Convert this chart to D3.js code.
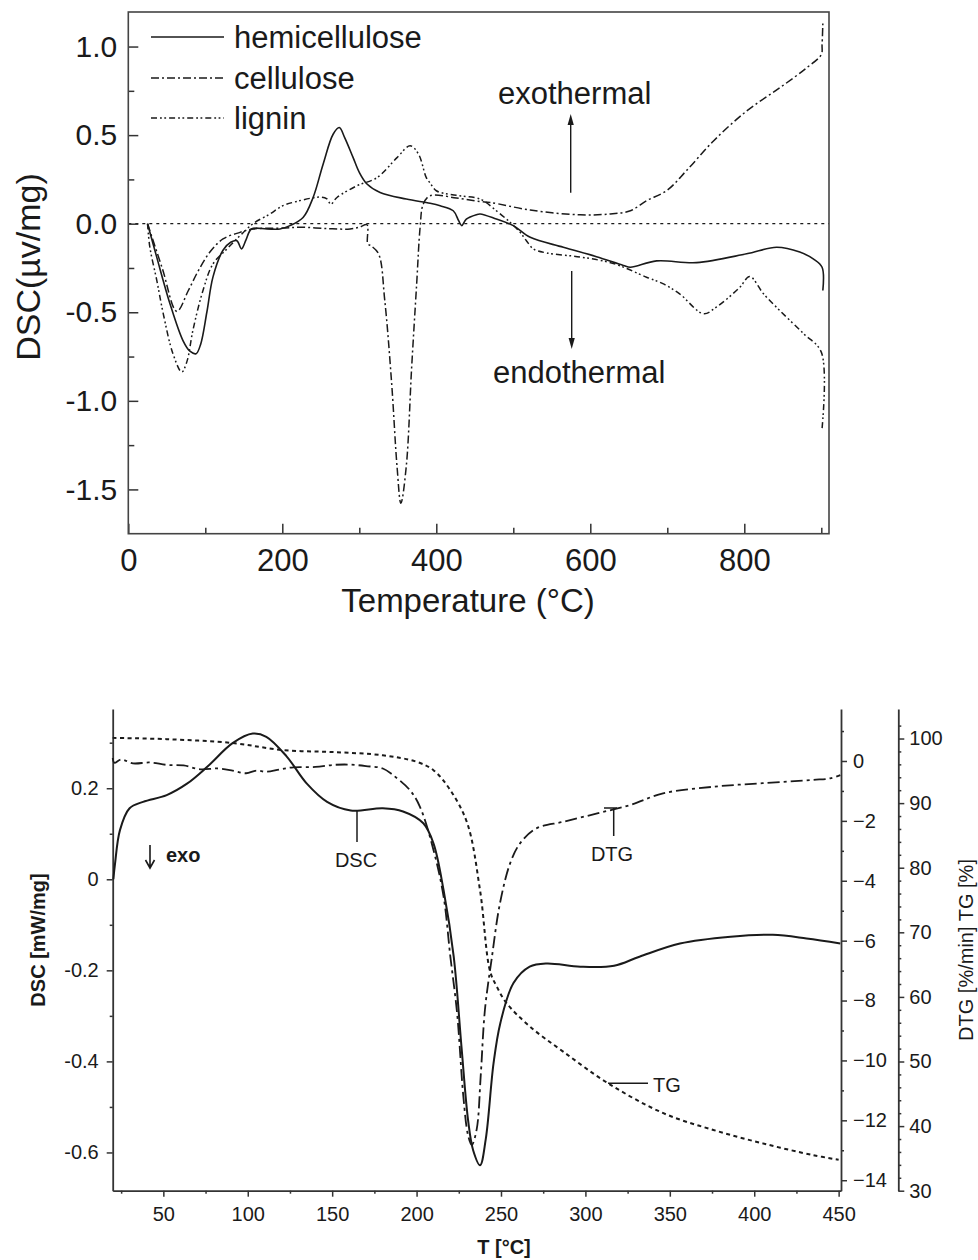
<!DOCTYPE html>
<html>
<head>
<meta charset="utf-8">
<script src="https://cdn.jsdelivr.net/npm/d3@7"></script>
<style>
  body { margin: 0; background: #fff; }
  svg { display: block; font-family: "Liberation Sans", Arial, sans-serif; }
</style>
</head>
<body>
<svg id="chart" width="978" height="1260"></svg>
<script>
// ---------- top chart data: [temperature °C, DSC µv/mg]
var hemicellulose = [[25,0],[37,-0.19],[54,-0.45],[71,-0.66],[80,-0.72],[88,-0.734],[94,-0.68],[102,-0.5],[110,-0.3],[123,-0.15],[133,-0.105],[141,-0.096],[147,-0.142],[153,-0.09],[160,-0.03],[180,-0.03],[197,-0.03],[210,-0.011],[227,0.035],[240,0.148],[253,0.336],[266,0.505],[274,0.543],[281,0.486],[292,0.373],[300,0.29],[310,0.224],[327,0.176],[361,0.139],[392,0.115],[405,0.101],[422,0.073],[429,0.017],[433,-0.011],[439,0.026],[452,0.051],[457,0.055],[478,0.026],[500,-0.011],[522,-0.077],[565,-0.133],[608,-0.186],[643,-0.236],[652,-0.246],[686,-0.21],[738,-0.22],[803,-0.17],[842,-0.133],[872,-0.16],[890,-0.2],[901,-0.246],[902,-0.377]];
var cellulose = [[25,0],[44,-0.25],[63,-0.495],[78,-0.377],[91,-0.265],[106,-0.16],[123,-0.086],[145,-0.049],[162,-0.03],[200,-0.025],[223,-0.02],[260,-0.028],[288,-0.03],[300,-0.02],[310,-0.006],[311,-0.114],[315,-0.124],[325,-0.17],[333,-0.43],[342,-0.9],[349,-1.37],[354,-1.578],[361,-1.37],[368,-0.81],[374.5,-0.34],[379,-0.02],[383,0.11],[392,0.158],[426,0.145],[457,0.125],[470,0.12],[522,0.077],[587,0.05],[626,0.055],[652,0.073],[673,0.13],[699,0.186],[725,0.3],[760,0.467],[803,0.636],[846,0.767],[881,0.88],[900,0.955],[901,1.01],[902,1.13]];
var lignin = [[25,0],[28,-0.133],[37,-0.32],[45.5,-0.51],[58,-0.734],[69.4,-0.837],[76,-0.78],[84,-0.6],[97,-0.377],[110,-0.227],[128,-0.143],[145,-0.068],[162,0],[184,0.055],[200,0.1],[219,0.126],[249,0.15],[258,0.14],[263,0.11],[271,0.148],[297,0.214],[323,0.26],[349,0.373],[366,0.44],[377,0.392],[387,0.26],[392,0.23],[400,0.186],[426,0.16],[457,0.139],[478,0.073],[496,0.007],[509,-0.049],[517,-0.096],[526,-0.142],[543,-0.165],[587,-0.188],[630,-0.225],[673,-0.302],[695,-0.34],[716,-0.396],[747,-0.508],[764,-0.47],[794,-0.36],[807,-0.298],[825,-0.396],[846,-0.49],[877,-0.621],[900,-0.725],[901,-1.156]];
var topXTicks = [0, 200, 400, 600, 800];
var topYTicks = [-1.5, -1.0, -0.5, 0.0, 0.5, 1.0];
var topLegend = ["hemicellulose", "cellulose", "lignin"];

// ---------- bottom chart data: [T °C, value]
var dsc = [[20.4,0],[21.4,0.035],[24.3,0.108],[30,0.156],[38,0.17],[52,0.185],[64,0.21],[76,0.247],[91,0.299],[103,0.32],[111,0.313],[123,0.27],[135,0.21],[147,0.17],[161,0.151],[180,0.156],[192,0.149],[204,0.123],[210,0.079],[216,-0.024],[222,-0.17],[226.6,-0.368],[230.5,-0.529],[233.5,-0.595],[237.6,-0.628],[241,-0.57],[245.6,-0.404],[249.6,-0.316],[257.4,-0.228],[267,-0.192],[277,-0.185],[297,-0.192],[317,-0.19],[332,-0.17],[356,-0.141],[386,-0.126],[411,-0.122],[431,-0.13],[451,-0.141]];
var dtg = [[20,0.1],[21,-0.06],[25,0.05],[32,-0.08],[42,-0.05],[52,-0.13],[62,-0.15],[72,-0.28],[82,-0.25],[91,-0.32],[99,-0.41],[105,-0.32],[111,-0.36],[119,-0.28],[127,-0.21],[140,-0.2],[151,-0.13],[160,-0.12],[170,-0.17],[180,-0.25],[186,-0.47],[196,-0.97],[202,-1.53],[210,-2.97],[216,-4.53],[220,-6.53],[224,-8.42],[227.7,-11.2],[230.5,-12.5],[232.7,-12.82],[235.6,-12.3],[238,-10.5],[240.5,-8.3],[244.5,-6.6],[249.4,-4.75],[255.4,-3.42],[261.3,-2.75],[271,-2.25],[287,-2.03],[307,-1.75],[326.5,-1.47],[346,-1.08],[376,-0.86],[405,-0.74],[435,-0.63],[445,-0.58],[451,-0.47]];
var tg = [[20,100.1],[52,99.9],[91,99.3],[121,98.2],[151,97.9],[180,97.4],[200,96.4],[210,95.1],[220,92],[230,86.9],[237.6,76.5],[243.5,64],[247.5,61.6],[253.4,59],[267.2,55.4],[287,51.5],[313.6,46.6],[346.2,42],[375.8,39.4],[405.4,37.3],[435,35.5],[450,34.8]];
var botXTicks = [50, 100, 150, 200, 250, 300, 350, 400, 450];
var dscTicks = [-0.6, -0.4, -0.2, 0, 0.2];
var dtgTicks = [-14, -12, -10, -8, -6, -4, -2, 0];
var tgTicks = [30, 40, 50, 60, 70, 80, 90, 100];

var FONT = "'Liberation Sans', Arial, sans-serif";
var INK = "#1a1a1a";
var svg = d3.select("#chart");

function styleAxis(g, fs) {
  g.attr("font-size", fs).attr("font-family", FONT);
  g.selectAll("text").attr("fill", INK);
  g.selectAll("line").attr("stroke", "#333").attr("stroke-width", 1.5);
  g.selectAll("path.domain").attr("stroke", "#333").attr("stroke-width", 1.8);
}

// ================= TOP CHART =================
var xTop = d3.scaleLinear().domain([0, 910]).range([128.3, 829]);
var yTop = d3.scaleLinear().domain([-1.75, 1.195]).range([533.7, 12]);
var topChart = svg.append("g");

topChart.append("line")
  .attr("x1", xTop(0)).attr("x2", xTop(910))
  .attr("y1", yTop(0)).attr("y2", yTop(0))
  .attr("stroke", INK).attr("stroke-width", 1.3).attr("stroke-dasharray", "3,4");

var gxt = topChart.append("g").attr("transform", "translate(0,533.7)")
  .call(d3.axisBottom(xTop).tickValues(topXTicks).tickSizeInner(-10).tickSizeOuter(0).tickPadding(15));
topChart.append("g").attr("transform", "translate(0,533.7)")
  .call(d3.axisBottom(xTop).tickValues([100, 300, 500, 700, 900]).tickSize(-6).tickFormat(""))
  .call(styleAxis, 31);
styleAxis(gxt, 31);

var gyt = topChart.append("g").attr("transform", "translate(128.3,0)")
  .call(d3.axisLeft(yTop).tickValues(topYTicks).tickSizeInner(-10).tickSizeOuter(0).tickPadding(11)
    .tickFormat(function(d) { return d.toFixed(1); }));
topChart.append("g").attr("transform", "translate(128.3,0)")
  .call(d3.axisLeft(yTop).tickValues([-1.25, -0.75, -0.25, 0.25, 0.75]).tickSize(-6).tickFormat(""))
  .call(styleAxis, 31);
styleAxis(gyt, 30);
topChart.selectAll(".domain").remove();

topChart.append("rect")
  .attr("x", 128.3).attr("y", 12).attr("width", 829 - 128.3).attr("height", 533.7 - 12)
  .attr("fill", "none").attr("stroke", "#444").attr("stroke-width", 1.6);

var lineTop = d3.line()
  .x(function(d) { return xTop(d[0]); })
  .y(function(d) { return yTop(d[1]); })
  .curve(d3.curveCatmullRom.alpha(0.5));

var topStyles = [
  { data: hemicellulose, dash: null, w: 1.6 },
  { data: cellulose, dash: "8,3,2,3", w: 1.5 },
  { data: lignin, dash: "6,3,1.8,2.5,1.8,3", w: 1.5 }
];
topStyles.forEach(function(s, i) {
  topChart.append("path").datum(s.data)
    .attr("d", lineTop)
    .attr("fill", "none").attr("stroke", INK).attr("stroke-width", s.w)
    .attr("stroke-dasharray", s.dash);
  var ly = [37, 78, 118][i];
  topChart.append("line").attr("x1", 151).attr("x2", 224).attr("y1", ly).attr("y2", ly)
    .attr("stroke", INK).attr("stroke-width", s.w).attr("stroke-dasharray", s.dash);
  topChart.append("text").attr("x", 234).attr("y", ly + 11)
    .attr("font-size", 31).attr("fill", INK).text(topLegend[i]);
});

// annotations
topChart.append("text").attr("x", 498).attr("y", 104).attr("font-size", 31).attr("fill", INK).text("exothermal");
topChart.append("text").attr("x", 493).attr("y", 383).attr("font-size", 31).attr("fill", INK).text("endothermal");
topChart.append("line").attr("x1", 570.7).attr("x2", 570.7).attr("y1", 192.7).attr("y2", 122)
  .attr("stroke", INK).attr("stroke-width", 1.4);
topChart.append("path").attr("d", "M570.7,114 L567.6,125 L573.8,125 Z").attr("fill", INK);
topChart.append("line").attr("x1", 571.7).attr("x2", 571.7).attr("y1", 271).attr("y2", 341)
  .attr("stroke", INK).attr("stroke-width", 1.4);
topChart.append("path").attr("d", "M571.7,349 L568.6,338 L574.8,338 Z").attr("fill", INK);

topChart.append("text").attr("transform", "translate(40,267) rotate(-90)")
  .attr("text-anchor", "middle").attr("font-size", 34).attr("fill", INK).text("DSC(µv/mg)");
topChart.append("text").attr("x", 468).attr("y", 612)
  .attr("text-anchor", "middle").attr("font-size", 33).attr("fill", INK).text("Temperature (°C)");

// ================= BOTTOM CHART =================
var xBot = d3.scaleLinear().domain([20, 451.4]).range([112.7, 841]);
var yDsc = d3.scaleLinear().domain([-0.684, 0.374]).range([1190.7, 709]);
var yDtg = d3.scaleLinear().domain([-14.35, 1.736]).range([1190.7, 709]);
var yTg = d3.scaleLinear().domain([30, 104.57]).range([1190.7, 709]);
var botChart = svg.append("g");

var gxb = botChart.append("g").attr("transform", "translate(0,1190.7)")
  .call(d3.axisBottom(xBot).tickValues(botXTicks).tickSize(6).tickSizeOuter(0).tickPadding(10));
styleAxis(gxb, 20);
botChart.append("g").attr("transform", "translate(0,1190.7)")
  .call(d3.axisBottom(xBot).tickValues([25, 75, 125, 175, 225, 275, 325, 375, 425]).tickSize(3).tickFormat(""))
  .call(styleAxis, 20).select(".domain").remove();

var gyb = botChart.append("g").attr("transform", "translate(112.7,0)")
  .call(d3.axisLeft(yDsc).tickValues(dscTicks).tickSize(6).tickSizeOuter(0).tickPadding(8)
    .tickFormat(function(d) { return d === 0 ? "0" : d.toFixed(1); }));
styleAxis(gyb, 20);
botChart.append("g").attr("transform", "translate(112.7,0)")
  .call(d3.axisLeft(yDsc).tickValues([-0.5, -0.3, -0.1, 0.1, 0.3]).tickSize(3).tickFormat(""))
  .call(styleAxis, 20).select(".domain").remove();

var gdtg = botChart.append("g").attr("transform", "translate(841,0)")
  .call(d3.axisRight(yDtg).tickValues(dtgTicks).tickSize(6).tickSizeOuter(0).tickPadding(6)
    .tickFormat(d3.format("d")));
styleAxis(gdtg, 20);
botChart.append("g").attr("transform", "translate(841,0)")
  .call(d3.axisRight(yDtg).tickValues([-13, -11, -9, -7, -5, -3, -1, 1]).tickSize(3).tickFormat(""))
  .call(styleAxis, 20).select(".domain").remove();

var gtg = botChart.append("g").attr("transform", "translate(898.3,0)")
  .call(d3.axisRight(yTg).tickValues(tgTicks).tickSize(6).tickSizeOuter(0).tickPadding(5));
styleAxis(gtg, 20);
botChart.append("g").attr("transform", "translate(898.3,0)")
  .call(d3.axisRight(yTg).tickValues(d3.range(32, 104, 2).filter(function(v) { return v % 10 !== 0; }))
    .tickSize(3).tickFormat(""))
  .call(styleAxis, 20).select(".domain").remove();

function botLine(yScale) {
  return d3.line()
    .x(function(d) { return xBot(d[0]); })
    .y(function(d) { return yScale(d[1]); })
    .curve(d3.curveCatmullRom.alpha(0.5));
}
botChart.append("path").datum(tg).attr("d", botLine(yTg))
  .attr("fill", "none").attr("stroke", INK).attr("stroke-width", 2).attr("stroke-dasharray", "4,3.5");
botChart.append("path").datum(dtg).attr("d", botLine(yDtg))
  .attr("fill", "none").attr("stroke", INK).attr("stroke-width", 1.8).attr("stroke-dasharray", "12,4,3,4");
botChart.append("path").datum(dsc).attr("d", botLine(yDsc))
  .attr("fill", "none").attr("stroke", INK).attr("stroke-width", 2);

// labels and leaders
botChart.append("path").attr("d", "M150,845 V868 M145.5,860 L150,868 L154.5,860")
  .attr("fill", "none").attr("stroke", INK).attr("stroke-width", 1.6);
botChart.append("text").attr("x", 166).attr("y", 862).attr("font-size", 20).attr("font-weight", "bold")
  .attr("fill", INK).text("exo");
botChart.append("line").attr("x1", 357).attr("x2", 357).attr("y1", 811).attr("y2", 842)
  .attr("stroke", INK).attr("stroke-width", 1.5);
botChart.append("text").attr("x", 356).attr("y", 867).attr("text-anchor", "middle").attr("font-size", 20)
  .attr("fill", INK).text("DSC");
botChart.append("path").attr("d", "M604,808 H617 M613.7,808 V836")
  .attr("fill", "none").attr("stroke", INK).attr("stroke-width", 1.5);
botChart.append("text").attr("x", 612).attr("y", 861).attr("text-anchor", "middle").attr("font-size", 20)
  .attr("fill", INK).text("DTG");
botChart.append("line").attr("x1", 608).attr("x2", 648).attr("y1", 1083.3).attr("y2", 1083.3)
  .attr("stroke", INK).attr("stroke-width", 1.5);
botChart.append("text").attr("x", 653).attr("y", 1091.5).attr("font-size", 20).attr("fill", INK).text("TG");

botChart.append("text").attr("transform", "translate(45,940) rotate(-90)")
  .attr("text-anchor", "middle").attr("font-size", 20).attr("font-weight", "bold")
  .attr("fill", INK).text("DSC [mW/mg]");
botChart.append("text").attr("x", 504).attr("y", 1254)
  .attr("text-anchor", "middle").attr("font-size", 20).attr("font-weight", "bold")
  .attr("fill", INK).text("T [°C]");
botChart.append("text").attr("transform", "translate(973,950) rotate(-90)")
  .attr("text-anchor", "middle").attr("font-size", 20)
  .attr("fill", INK).text("DTG [%/min] TG [%]");
</script>
</body>
</html>
